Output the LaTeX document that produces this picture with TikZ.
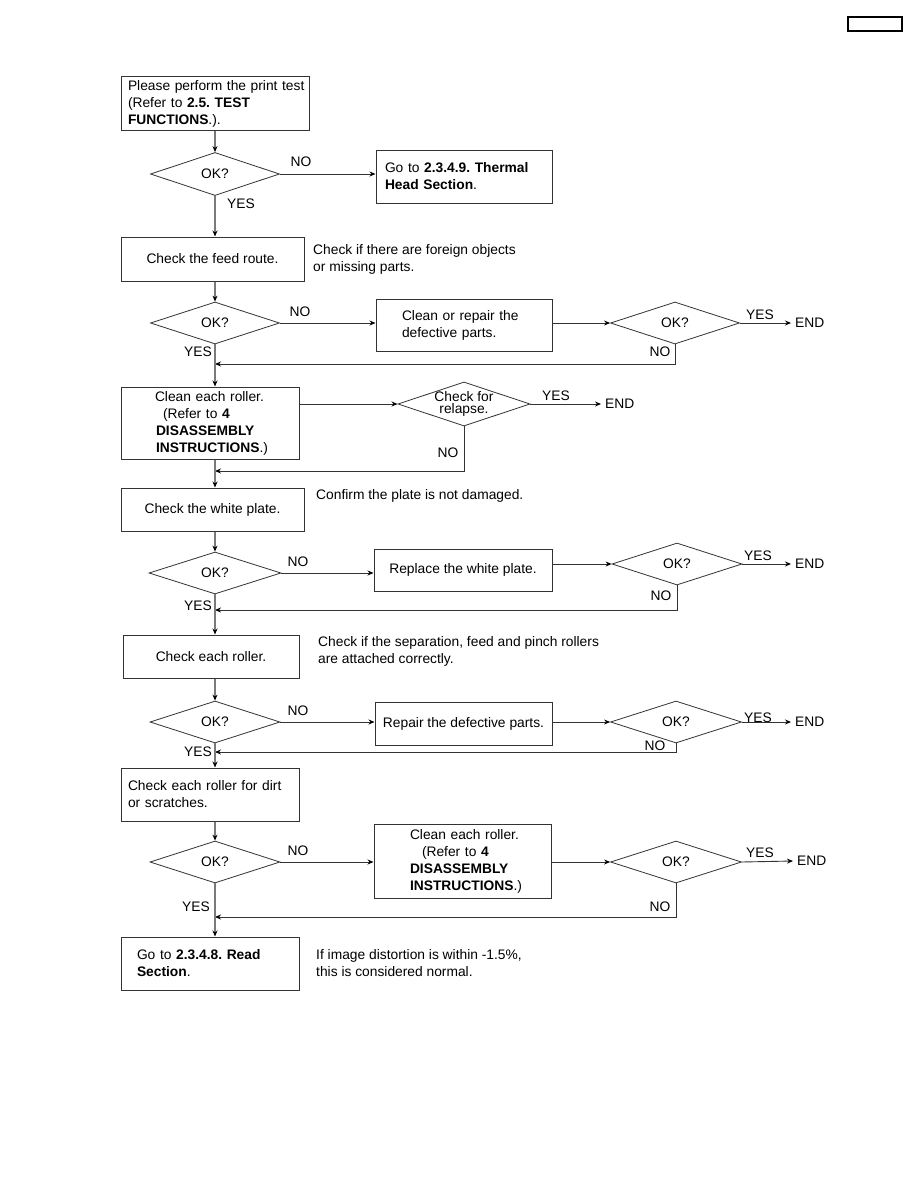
\documentclass[tikz,border=0pt]{standalone}
\usepackage{fontspec}
\setmainfont{Liberation Sans}
\usetikzlibrary{shapes.geometric,arrows.meta}
\definecolor{ln}{HTML}{333333}
\definecolor{mainln}{HTML}{7A7A7A}
\newcommand{\fs}{\fontsize{13.8pt}{17pt}\selectfont}
\newcommand{\ind}[1]{\hspace*{#1pt}}
\frenchspacing
\begin{document}
\begin{tikzpicture}[x=1pt,y=-1pt,
 every node/.style={font=\fs, text=black},
 box/.style={draw=ln, line width=1pt, inner xsep=0pt, inner ysep=0pt, align=left},
 cbox/.style={draw=ln, line width=1pt, inner sep=0pt, align=center},
 dia/.style={draw=ln, line width=0.8pt, shape=diamond, inner sep=0pt, aspect=3},
 lbl/.style={inner sep=0pt},
 note/.style={inner sep=0pt, anchor=west, align=left},
 endn/.style={inner xsep=4pt, inner ysep=0pt, anchor=west},
 main/.style={draw=mainln, line width=1.2pt, -{Stealth[length=6pt,width=5pt,color=black]}},
 flow/.style={draw=ln, line width=0.9pt, -{Stealth[length=6pt,width=5pt,color=black]}}
]
\useasboundingbox[fill=white] (0,0) rectangle (918,1188);

\node[draw, line width=1.5pt, minimum width=54pt, minimum height=14pt, inner sep=0pt] (hdr) at (875,24) {};

% row 1
\node[box, text width=188pt, minimum height=54pt] (b1) at (215,104)
 {\ind{7}Please perform the print test\\\ind{7}(Refer to \textbf{2.5. TEST}\\\ind{7}\textbf{FUNCTIONS}.).};
\node[dia, minimum width=129pt, minimum height=43pt] (d1) at (215,174) {OK?};
\node[box, text width=176pt, minimum height=53pt] (b2) at (464,176.5)
 {\ind{9}Go to \textbf{2.3.4.9. Thermal}\\\ind{9}\textbf{Head Section}.};
\node[lbl] (no1) at (301,162) {NO};
\node[lbl] (yes1) at (241,204) {YES};

% row 2
\node[cbox, minimum width=183pt, minimum height=44pt] (b3) at (212.5,259) {Check the feed route.};
\node[note] (n3) at (313,259) {Check if there are foreign objects\\or missing parts.};
\node[dia, minimum width=129pt, minimum height=42pt] (d2) at (215,323) {OK?};
\node[box, text width=176pt, minimum height=52pt] (b3r) at (464,325)
 {\ind{26}Clean or repair the\\\ind{26}defective parts.};
\node[dia, minimum width=129pt, minimum height=42pt] (d2b) at (675,323) {OK?};
\node[endn] (e2) at (791,323) {END};
\node[lbl] (no2) at (300,312) {NO};
\node[lbl] (yes2) at (198,352) {YES};
\node[lbl] (yes2b) at (760,315) {YES};
\node[lbl] (no2b) at (660,352) {NO};
\coordinate (m2) at (215,364);

% row relapse
\node[box, text width=178pt, minimum height=72pt] (b4) at (210,423)
 {\ind{34}Clean each roller.\\\ind{42}(Refer to \textbf{4}\\\ind{35}\textbf{DISASSEMBLY}\\\ind{35}\textbf{INSTRUCTIONS}.)};
\node[dia, minimum width=127pt, minimum height=42pt, align=center,
 font=\fontsize{13.8pt}{11.5pt}\selectfont] (dr) at (464,404) {Check for\\relapse.};
\node[endn] (er) at (601,404) {END};
\node[lbl] (yesr) at (556,396) {YES};
\node[lbl] (nor) at (448,453) {NO};
\coordinate (m4) at (215,471);

% row 3
\node[cbox, minimum width=183pt, minimum height=43pt] (b5) at (212.5,509.5) {Check the white plate.};
\node[note] (n5) at (316,496) {Confirm the plate is not damaged.};
\node[dia, minimum width=132pt, minimum height=42pt] (d3) at (215,573) {OK?};
\node[cbox, minimum width=178pt, minimum height=42pt] (b5r) at (463,570) {Replace the white plate.};
\node[dia, minimum width=130pt, minimum height=42pt] (d3b) at (677,564) {OK?};
\node[endn] (e3) at (791,564) {END};
\node[lbl] (no3) at (298,562) {NO};
\node[lbl] (yes3) at (198,606) {YES};
\node[lbl] (yes3b) at (758,556) {YES};
\node[lbl] (no3b) at (661,596) {NO};
\coordinate (m6) at (215,610);

% row 4
\node[cbox, minimum width=176pt, minimum height=43pt] (b6) at (211,656.5) {Check each roller.};
\node[note] (n6) at (318,651) {Check if the separation, feed and pinch rollers\\are attached correctly.};
\node[dia, minimum width=130pt, minimum height=42pt] (d4) at (215,722) {OK?};
\node[cbox, minimum width=177pt, minimum height=43pt] (b6r) at (463.5,723.5) {Repair the defective parts.};
\node[dia, minimum width=131pt, minimum height=42pt] (d4b) at (676,722) {OK?};
\node[endn] (e4) at (791,722) {END};
\node[lbl] (no4) at (298,711) {NO};
\node[lbl] (yes4) at (198,752) {YES};
\node[lbl] (yes4b) at (758,718) {YES};
\node[lbl] (no4b) at (655,746) {NO};
\coordinate (m8) at (215,752);

% row 5
\node[box, text width=178pt, minimum height=53pt] (b7) at (210,794.5)
 {\ind{7}Check each roller for dirt\\\ind{7}or scratches.};
\node[dia, minimum width=130pt, minimum height=42pt] (d5) at (215,862) {OK?};
\node[box, text width=177pt, minimum height=74pt] (b7r) at (462.5,861)
 {\ind{36}Clean each roller.\\\ind{48}(Refer to \textbf{4}\\\ind{36}\textbf{DISASSEMBLY}\\\ind{36}\textbf{INSTRUCTIONS}.)};
\node[dia, minimum width=131pt, minimum height=42pt] (d5b) at (676,862) {OK?};
\node[endn] (e5) at (793,861) {END};
\node[lbl] (no5) at (298,851) {NO};
\node[lbl] (yes5) at (196,907) {YES};
\node[lbl] (yes5b) at (760,853) {YES};
\node[lbl] (no5b) at (660,907) {NO};
\coordinate (m10) at (215,917);

% final
\node[box, text width=178pt, minimum height=53pt] (b8) at (210,963.5)
 {\ind{16}Go to \textbf{2.3.4.8. Read}\\\ind{16}\textbf{Section}.};
\node[note] (n8) at (316,963.5) {If image distortion is within -1.5\%,\\this is considered normal.};

% connectors
\draw[main] (b1.south -| d1.north) -- (d1.north);
\draw[flow] (d1.east) -- (b2.west |- d1.east);
\draw[main] (d1.south) -- (d1.south |- b3.north);
\draw[main] (d1.south |- b3.south) -- (d2.north);
\draw[flow] (d2.east) -- (b3r.west |- d2.east);
\draw[flow] (b3r.east |- d2b.west) -- (d2b.west);
\draw[flow] (d2b.east) -- (e2.west);
\draw[flow] (d2b.south) |- (m2);
\draw[main] (d2.south) -- (d2.south |- b4.north);
\draw[flow] (b4.east |- dr.west) -- (dr.west);
\draw[flow] (dr.east) -- (er.west);
\draw[flow] (dr.south) |- (m4);
\draw[main] (d2.south |- b4.south) -- (d2.south |- b5.north);
\draw[main] (d2.south |- b5.south) -- (d3.north);
\draw[flow] (d3.east) -- (b5r.west |- d3.east);
\draw[flow] (b5r.east |- d3b.west) -- (d3b.west);
\draw[flow] (d3b.east) -- (e3.west);
\draw[flow] (d3b.south) |- (m6);
\draw[main] (d3.south) -- (d3.south |- b6.north);
\draw[main] (d3.south |- b6.south) -- (d4.north);
\draw[flow] (d4.east) -- (b6r.west |- d4.east);
\draw[flow] (b6r.east |- d4b.west) -- (d4b.west);
\draw[flow] (d4b.east) -- (e4.west);
\draw[flow] (d4b.south) |- (m8);
\draw[main] (d4.south) -- (d4.south |- b7.north);
\draw[main] (d4.south |- b7.south) -- (d5.north);
\draw[flow] (d5.east) -- (b7r.west |- d5.east);
\draw[flow] (b7r.east |- d5b.west) -- (d5b.west);
\draw[flow] (d5b.east) -- (e5.west);
\draw[flow] (d5b.south) |- (m10);
\draw[main] (d5.south) -- (d5.south |- b8.north);
\end{tikzpicture}
\end{document}
